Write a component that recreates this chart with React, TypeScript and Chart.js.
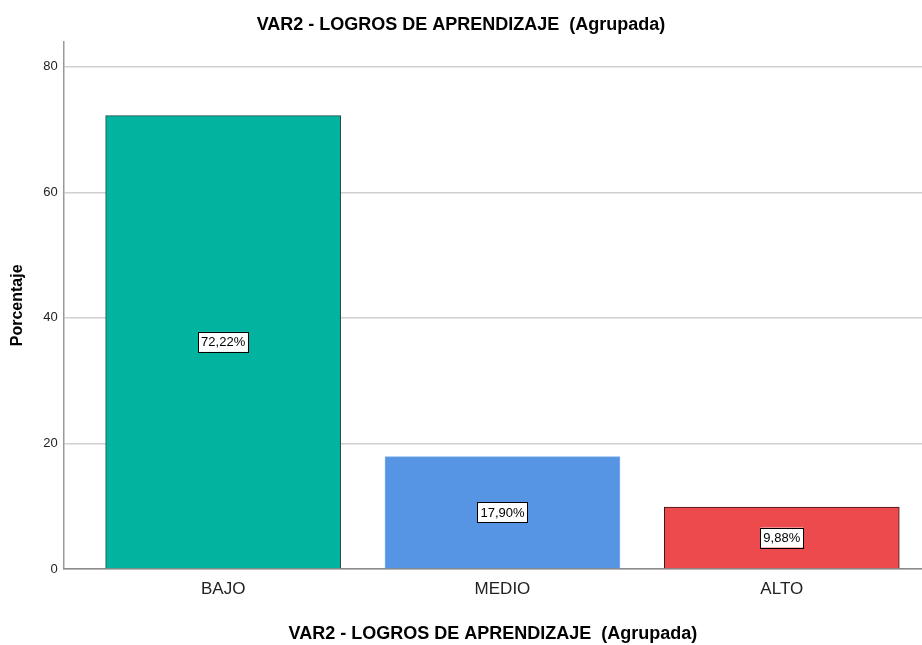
import React, { useEffect, useRef } from "react";
import { Chart, registerables } from "chart.js";

Chart.register(...registerables);

const categories = ["BAJO", "MEDIO", "ALTO"];
const percentages = [72.22, 17.9, 9.88];
const yTickValues = [0, 20, 40, 60, 80];
const barColors = ["#02b3a0", "#5595e3", "#ec4a4c"];
const barBorders = ["#1d4a45", "#7aaeea", "#3a1616"];
const titleText = "VAR2 - LOGROS DE APRENDIZAJE  (Agrupada)";
const yTitle = "Porcentaje";

const FONT = "'Liberation Sans', Arial, sans-serif";

const valueLabelPlugin = {
  id: "valueLabels",
  afterDatasetsDraw(chart: any) {
    const ctx = chart.ctx;
    const meta = chart.getDatasetMeta(0);
    ctx.save();
    ctx.font = `13px ${FONT}`;
    ctx.textAlign = "center";
    ctx.textBaseline = "middle";
    meta.data.forEach((bar: any, i: number) => {
      const txt = percentages[i].toFixed(2).replace(".", ",") + "%";
      const cx = bar.x;
      const cy = (bar.y + bar.base) / 2;
      const w = ctx.measureText(txt).width + 6;
      const h = 20;
      ctx.fillStyle = "#ffffff";
      ctx.fillRect(cx - w / 2, cy - h / 2, w, h);
      ctx.strokeStyle = "#000000";
      ctx.lineWidth = 1;
      ctx.strokeRect(Math.round(cx - w / 2) + 0.5, Math.round(cy - h / 2) + 0.5, Math.round(w), h);
      ctx.fillStyle = "#000000";
      ctx.fillText(txt, cx, cy + 1);
    });
    ctx.restore();
  },
};

export default function App() {
  const ref = useRef<HTMLCanvasElement | null>(null);

  useEffect(() => {
    document.body.style.margin = "0";
    if (!ref.current) return;
    const chart = new Chart(ref.current, {
      type: "bar",
      data: {
        datasets: [
          {
            data: percentages.map((v, i) => ({ x: i, y: v })),
            backgroundColor: barColors,
            borderColor: barBorders,
            borderWidth: 1,
            barThickness: 235,
          },
        ],
      },
      options: {
        animation: false,
        responsive: false,
        maintainAspectRatio: false,
        layout: { padding: { left: 0, right: 0, top: 0, bottom: 0 } },
        plugins: {
          legend: { display: false },
          tooltip: { enabled: false },
          title: {
            display: true,
            text: titleText,
            color: "#000",
            font: { family: FONT, size: 18, weight: "bold" },
            padding: { top: 14, bottom: 6 },
          },
        },
        scales: {
          x: {
            type: "linear",
            offset: false,
            min: -0.571,
            max: 2.502,
            afterBuildTicks(scale: any) {
              scale.ticks = categories.map((_, i) => ({ value: i }));
            },
            ticks: {
              color: "#222",
              font: { family: FONT, size: 17 },
              padding: 10,
              autoSkip: false,
              maxRotation: 0,
              callback: (v: any) => categories[v as number] ?? "",
            },
            grid: { display: false, drawTicks: false, offset: false },
            border: { display: true, color: "#8a8a8a", width: 1.5 },
            title: {
              display: true,
              text: titleText,
              color: "#000",
              font: { family: FONT, size: 18, weight: "bold" },
              padding: { top: 14, bottom: 0 },
            },
          },
          y: {
            type: "linear",
            min: 0,
            max: 84,
            afterBuildTicks(scale: any) {
              scale.ticks = yTickValues.map((v) => ({ value: v }));
            },
            ticks: {
              color: "#222",
              font: { family: FONT, size: 13 },
              padding: 6,
            },
            grid: { color: "#d0d0d0", lineWidth: 1.5, drawTicks: false },
            border: { display: true, color: "#9a9a9a", width: 1.5 },
            title: {
              display: true,
              text: yTitle,
              color: "#000",
              font: { family: FONT, size: 16, weight: "bold" },
              padding: { top: 8, bottom: 10 },
            },
          },
        },
      },
      plugins: [valueLabelPlugin],
    } as any);
    return () => chart.destroy();
  }, []);

  return <canvas ref={ref} width={922} height={645} style={{ display: "block" }} />;
}
